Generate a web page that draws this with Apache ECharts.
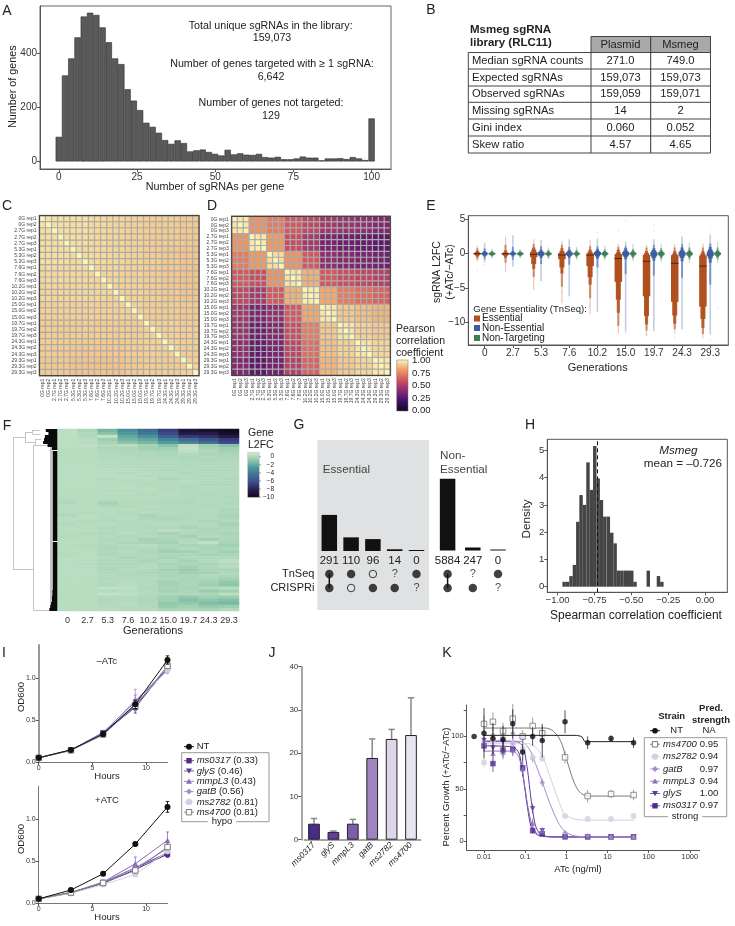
<!DOCTYPE html>
<html>
<head>
<meta charset="utf-8">
<style>html,body{margin:0;padding:0;background:#fff}#main{width:735px;height:926px}</style>
<script src="https://cdn.jsdelivr.net/npm/echarts@6/dist/echarts.min.js"></script>
</head>
<body>
<div id="main"></div>
<script>
// A: sgRNAs per gene histogram (bin width 2)
const aBins = [0,2,4,6,8,10,12,14,16,18,20,22,24,26,28,30,32,34,36,38,40,42,44,46,48,50,52,54,56,58,60,62,64,66,68,70,72,74,76,78,80,82,84,86,88,90,92,94,96,98,100];
const aCounts = [91,318,381,459,536,550,542,496,441,381,360,267,225,190,143,128,106,79,65,78,68,37,41,44,35,28,22,43,26,30,25,24,28,16,14,17,8,8,11,18,14,14,4,11,11,12,9,16,11,5,159];

// B: library table
const bHeader = ['Plasmid', 'Msmeg'];
const bRows = [
  ['Median sgRNA counts', '271.0', '749.0'],
  ['Expected sgRNAs', '159,073', '159,073'],
  ['Observed sgRNAs', '159,059', '159,071'],
  ['Missing sgRNAs', '14', '2'],
  ['Gini index', '0.060', '0.052'],
  ['Skew ratio', '4.57', '4.65']
];

// C, D: correlation, read per time point block, diagonal cells are 1
const genNames = ['0G','2.7G','5.3G','7.6G','10.2G','15.0G','19.7G','24.3G','29.3G'];
const cReps = [2,3,3,3,3,3,3,3,3];
const dReps = [3,3,3,3,3,3,3,3,3];
const cBlocks = [
  [.96,.95,.95,.94,.93,.92,.91,.91,.90],
  [.95,.95,.95,.94,.93,.92,.91,.91,.90],
  [.95,.95,.94,.94,.93,.92,.91,.90,.89],
  [.94,.94,.94,.93,.93,.92,.91,.90,.89],
  [.93,.93,.93,.93,.92,.92,.91,.90,.89],
  [.92,.92,.92,.92,.92,.92,.91,.91,.90],
  [.91,.91,.91,.91,.91,.91,.92,.92,.91],
  [.91,.91,.90,.90,.90,.91,.92,.92,.91],
  [.90,.90,.89,.89,.89,.90,.91,.91,.92]
];
const dBlocks = [
  [.97,.78,.72,.62,.55,.47,.44,.42,.38],
  [.78,.98,.80,.58,.48,.36,.32,.30,.28],
  [.72,.80,.95,.78,.62,.42,.38,.36,.34],
  [.62,.58,.78,.96,.85,.62,.58,.55,.52],
  [.55,.48,.62,.85,.98,.83,.72,.68,.65],
  [.47,.36,.42,.62,.83,.97,.90,.88,.86],
  [.44,.32,.38,.58,.72,.90,.96,.92,.90],
  [.42,.30,.36,.55,.68,.88,.92,.96,.93],
  [.38,.28,.34,.52,.65,.86,.90,.93,.97]
];
const pearsonColors = ['#0d0829','#3f1068','#8a2a74','#d2505f','#ee9a62','#fbf6b4'];
const pearsonTicks = ['1.00','0.75','0.50','0.25','0.00'];

// E: letter value boxes, inner to outer, [lo, hi] in L2FC
const eGens = ['0','2.7','5.3','7.6','10.2','15.0','19.7','24.3','29.3'];
const eMedians = [0,0,-.1,-.2,-.2,-.7,-1.1,-1.4,-1.8];
const eEssential = [
  [[-.1,.1],[-.25,.25],[-.45,.45],[-.8,.8],[-1.1,1.2]],
  [[-.15,.1],[-.3,.2],[-.6,.5],[-1.3,1.3],[-2.6,2.5]],
  [[-.5,.25],[-1.5,.6],[-2.2,.9],[-3.4,1.4],[-5.3,2.1]],
  [[-.8,.1],[-2,.4],[-2.9,.8],[-4.8,1.3],[-7.2,1.9]],
  [[-1.8,.05],[-3.4,.3],[-4.5,.6],[-6.5,1.1],[-8.8,2]],
  [[-4.1,-.05],[-6.7,.2],[-8.6,.6],[-10.5,1],[-11.6,1.5]],
  [[-6.2,-.15],[-9.1,.1],[-10.3,.4],[-11.2,.9],[-12,1.3]],
  [[-7,-.2],[-9,.05],[-10.2,.4],[-11,.9],[-11.6,1.4]],
  [[-7.7,-.25],[-9.5,.05],[-10.8,.4],[-11.7,.9],[-12.3,1.5]]
];
const eNonEssential = [
  [[-.1,.1],[-.25,.25],[-.4,.4],[-.8,.8],[-1.3,1.6]],
  [[-.1,.1],[-.2,.2],[-.4,.4],[-.9,1],[-1.9,2.7]],
  [[-.2,.2],[-.35,.35],[-.6,.6],[-1.5,1.1],[-4,2]],
  [[-.2,.2],[-.35,.35],[-.6,.6],[-1.6,1],[-6.2,2.1]],
  [[-.2,.25],[-.4,.4],[-.7,.7],[-2,1.1],[-8.5,2.2]],
  [[-.25,.25],[-.45,.45],[-.8,.8],[-3,1.1],[-11.3,1.8]],
  [[-.3,.25],[-.6,.5],[-1,.8],[-3.2,1.3],[-11.3,2.1]],
  [[-.3,.25],[-.6,.5],[-1.1,.9],[-3.5,1.4],[-11,2.5]],
  [[-.35,.3],[-.7,.6],[-1.3,1],[-4.5,1.5],[-11.8,2.8]]
];
const eNonTargeting = [
  [[-.1,.1],[-.2,.2],[-.3,.3],[-.45,.45],[-.7,.7]],
  [[-.1,.1],[-.2,.2],[-.3,.3],[-.45,.45],[-.7,.7]],
  [[-.1,.1],[-.2,.2],[-.35,.35],[-.55,.55],[-.8,.9]],
  [[-.1,.1],[-.2,.2],[-.35,.35],[-.6,.6],[-.9,1]],
  [[-.12,.12],[-.25,.25],[-.4,.4],[-.65,.65],[-1,1.2]],
  [[-.12,.12],[-.25,.25],[-.45,.45],[-.7,.7],[-1.1,1.4]],
  [[-.15,.15],[-.3,.3],[-.5,.5],[-.8,.8],[-1.2,1.5]],
  [[-.15,.15],[-.3,.3],[-.5,.5],[-.8,.9],[-1.3,1.6]],
  [[-.15,.15],[-.3,.3],[-.5,.5],[-.8,.9],[-1.3,1.7]]
];
const eOutliers = [[-.26,-2.4],[0,-1.6],[1.74,-2.9],[2.74,-5.6],[3,-6.6],[3.74,-7.6],[4,3.1],[4.74,-9.3],[4.74,3.4],[5,-11.5],[5,4.8],[5.74,-11.8],[6,4.2],[6,3.4],[6.74,-12.2],[7,3.6],[7.26,-5.3],[8,-12.6],[8,3.6],[8.26,-8]];

// F: gene L2FC heatmap rows, top cluster first
const fGens = ['0','2.7','5.3','7.6','10.2','15.0','19.7','24.3','29.3'];
const fRows = [
  [-.2,-.7,-2,-3.5,-5,-7,-9,-9.5,-9.8],
  [-.2,-.5,-1.5,-3,-4.5,-6.5,-8.6,-8.6,-9.5],
  [-.2,-.5,0,-2.5,-3.5,-5.5,-7.2,-7.6,-8.6],
  [-.2,-.3,-1,-2,-2.5,-4,-5,-6,-7],
  [-.2,-.3,-.7,-1.5,-2,-3,-4,-5,-6.6],
  [-.2,-.2,-.4,-.3,-.8,-1.5,-.1,-1,-1.5],
  [-.3,-.3,-.6,-.6,-.9,-.9,0,-.7,-1],
  [-.3,-.3,-.5,-.5,-.6,-.7,-.2,-.5,-.8],
  [-.3,-.3,-.4,-.5,-.5,-.6,-.5,-.6,-.6],
  [-.3,-.3,-.4,-.4,-.5,-.5,-.6,-.5,-.6],
  [-.3,-.3,-.4,-.4,-.4,-.5,-.5,-.6,-.5],
  [-.3,-.3,-.3,-.4,-.4,-.4,-.5,-.5,-.5],
  [-.3,-.3,-.4,-.4,-.4,-.4,-.5,-.4,-.5],
  [-.3,-.3,-.3,-.3,-.4,-.5,-.4,-.5,-.5],
  [-.3,-.3,-.3,-.4,-.3,-.4,-.5,-.4,-.4],
  [-.3,-.3,-.3,-.3,-.4,-.4,-.4,-.5,-.4],
  [-.3,-.3,-.4,-.3,-.3,-.6,-.4,-.4,-.5],
  [-.3,-.3,-.3,-.4,-.4,-.4,-.3,-.4,-.4],
  [-.3,-.3,-.3,-.3,-.4,-.4,-.4,-.5,-.5],
  [-.3,-.3,-.3,-.3,-.3,-.4,-.5,-.4,-.4],
  [-.3,-.3,-.4,-.4,-.3,-.4,-.4,-.4,-.5],
  [-.3,-.3,-.3,-.3,-.4,-.3,-.4,-.5,-.4],
  [-.3,-.3,-.3,-.3,-.3,-.4,-.4,-.4,-.5],
  [-.4,-.3,-.4,-.3,-.4,-.4,-.5,-.4,-.4],
  [-.5,-.3,-.8,-.4,-.4,-.5,-.5,-.4,-.5],
  [-.3,-.3,-.5,-.4,-.3,-.4,-.4,-.5,-.4],
  [-.3,-.3,-.3,-.3,-.4,-.4,-.4,-.4,-.6],
  [-.3,-.4,-.3,-.4,-.3,-.4,-.5,-.4,-.5],
  [-.5,-.3,-.4,-.4,-.7,-.4,-.4,-.5,-.7],
  [-.3,-.3,-.4,-.3,-.6,-.6,-.5,-.4,-.6],
  [-.3,-.4,-.4,-.4,-.4,-.5,-.4,-.6,-.5],
  [-.4,-.3,-.3,-.5,-.4,-.3,-.5,-.4,-.8],
  [-.3,-.3,-.5,-.4,-.5,-.5,-.7,-.5,-.6],
  [-.3,-.3,-.4,-.4,-.4,-.2,-.4,-.6,-.5],
  [-.3,-.4,-.5,-.3,-.5,-.8,-.5,-.5,-.7],
  [-.4,-.3,-.4,-.5,-.4,-.5,-.8,-.4,-.5],
  [-.3,-.3,-.5,-.4,-.8,-.6,-.5,-.9,-.6],
  [-.3,-.3,-.4,-.6,-.7,-.8,-.4,-.1,-.7],
  [-.3,-.4,-.5,-.4,-.3,-.5,-.7,-.6,-.9],
  [-.3,-.3,-.6,-.5,-.4,-.7,-.5,-.7,-.6],
  [-.3,-.3,-.5,-.4,-.6,-1,-.9,-.6,-.9],
  [-.4,-.3,-.6,-.5,-.5,-.6,-.6,-.8,-.7],
  [-.3,-.3,-.4,-.6,-.5,-.7,-.5,-.5,-.5],
  [-.3,-.3,-.5,-.5,-.7,-.5,-.8,-.4,-.2],
  [-.3,-.4,-.6,-.6,-.5,-.7,-.6,-.7,-.4],
  [-.3,-.3,-.5,-.5,-.4,-.6,-.9,-.6,-.3],
  [-.3,-.3,-.6,-.4,-.5,-.8,-1.1,-.7,-.7],
  [-.3,-.3,-.5,-.5,-.6,-.6,-.9,-.8,-.5],
  [-.3,-.3,-.4,-.5,-.5,-.7,-.6,-.5,-.6],
  [-.3,-.3,-.5,-.4,-.4,-.5,-.7,-.6,-.9],
  [-.3,-.3,-.4,-.4,-.5,-.9,-.6,-.8,-1.3],
  [-.3,-.3,-.5,-.3,-.4,-.8,-.6,-1,-1.4],
  [-.3,-.3,-.1,-.2,-.5,-.7,-.7,-.4,-.3],
  [-.3,-.3,-.4,-.3,-.4,-.8,-.6,-1.1,-.9],
  [-.3,-.3,0,-.1,-.4,-.5,-.5,-.6,-.2],
  [-.3,-.3,-.4,-.4,-.5,-.9,-1.3,-.9,-1.1],
  [-.3,-.3,-.5,-.4,-.6,-.9,-1.6,-1.4,-1.6],
  [-.3,-.3,-.4,-.3,-.5,-1.3,-1.3,-1.7,-1.9],
  [-.3,-.3,-.4,-.4,-.5,-1.2,-.9,-1.3,-1.1],
  [-.3,-.3,-.3,-.4,-.4,-.7,-.6,-.7,-.5]
];
const fColors = ['#0d0a1a','#2a1d52','#3d4a8a','#3f7291','#4f9a9c','#94caab','#d6ebd2'];
const fTicks = ['0','−2','−4','−6','−8','−10'];
// dendrogram branches [height0, row0, height1, row1]; heights 0 root to 100 leaves
const dendroBranches = [
  [0,2.6,0,46.2],[0,2.6,27,2.6],[27,1,27,4.5],[27,1,44,1],[27,4.5,50,4.5],[44,.4,44,1.6],[44,.4,60,.4],[44,1.6,62,1.6],
  [50,3.4,50,5.4],[50,3.4,64,3.4],[50,5.4,66,5.4],[0,46.2,46,46.2],[46,5.3,46,59.6],[46,5.3,84,5.3],[46,59.6,84,59.6],
  [84,5.3,84,59.6],[86,6,86,59],[88,6,88,58]
];
const dendroLeafStart = [74,80,72,70,68,78,88,90,90,90,90,90,90,90,90,90,90,90,90,90,90,90,90,90,90,90,90,90,90,90,90,90,90,90,90,90,90,90,90,90,90,90,90,90,90,90,90,90,90,90,90,90,90,89,89,88,88,86,84,82];

// G: upset
const gEssCounts = [291,110,96,14,0];
const gNonCounts = [5884,247,0];
const gEssTn = ['full','full','open','q','full'];
const gEssCr = ['full','open','full','full','q'];
const gNonTn = ['full','q','full'];
const gNonCr = ['full','full','q'];
const gRows = ['CRISPRi','TnSeq'];

// H: density histogram [bin centre, density]
const hBins = [[-.956,.18],[-.933,.18],[-.909,.39],[-.886,.8],[-.863,2.38],[-.841,3.36],[-.818,3],[-.794,4.56],[-.771,3.55],[-.748,5.16],[-.725,3.97],[-.703,3.18],[-.68,2.57],[-.656,2.57],[-.633,1.98],[-.61,1.59],[-.587,.59],[-.564,.59],[-.541,.59],[-.519,.59],[-.497,.59],[-.475,.18],[-.385,.59],[-.316,.39],[-.293,.18]];
const hMean = -0.726;

// I: growth curves
const iHours = [0,3,6,9,12];
const strains = ['ms0317','glyS','mmpL3','gatB','ms2782','ms4700'];
const iScores = ['0.33','0.46','0.43','0.56','0.81','0.81'];
const iTopNT = [.05,.145,.335,.69,1.22];
const iTopNTErr = [.02,.02,.03,.05,.05];
const iTop = [[.05,.145,.345,.655,1.13],[.05,.14,.35,.68,1.11],[.05,.14,.355,.72,1.12],[.05,.14,.34,.74,1.09],[.05,.135,.32,.69,1.1],[.05,.14,.33,.67,1.15]];
const iTopErr = [[.01,.01,.02,.07,.05],[.01,.01,.02,.06,.04],[.01,.01,.02,.08,.04],[.01,.01,.02,.13,.03],[.01,.01,.02,.05,.03],[.01,.01,.02,.04,.03]];
const iBotNT = [.05,.155,.35,.705,1.15];
const iBotNTErr = [.02,.02,.02,.02,.065];
const iBot = [[.05,.125,.235,.4,.585],[.05,.12,.245,.42,.6],[.05,.125,.25,.47,.75],[.05,.12,.25,.42,.65],[.05,.115,.22,.34,.62],[.05,.125,.24,.39,.67]];
const iBotErr = [[.01,.01,.02,.03,.04],[.01,.01,.02,.03,.04],[.01,.01,.02,.08,.1],[.01,.01,.02,.03,.05],[.01,.01,.02,.02,.04],[.01,.01,.02,.03,.05]];

// J: bars
const jValues = [3.7,1.8,3.7,18.9,23.3,24.2];
const jErrors = [1.2,.2,1,4.4,2.2,8.6];

// K: dose response, doses in ng/ml
const kDoses = [.01,.0165,.029,.05,.087,.152,.26,.93,3.3,12.2,43];
const kNoDrugPos = -2.24;
const kNT = [103,98,97,112,85,100,96,114,94,98,94];
const kNTErr = [24,15,13,14,8,9,16,11,6,3,5];
const kVals = [
  [91,74,87,88,70,10,7,4,4,4,4],
  [96,89,95,92,99,31,10,4,4,4,4],
  [93,84,85,87,69,17,10,5,4,4,4],
  [95,101,102,103,98,79,56,8,5,4,4],
  [75,97,100,93,88,80,79,24,21,21,24],
  [112,114,105,117,100,110,103,80,43,45,44]
];
const kErrs = [
  [6,8,7,6,8,3,2,1,1,1,1],
  [5,7,6,7,4,5,3,1,1,1,1],
  [6,7,7,6,6,5,2,1,1,1,1],
  [7,8,7,9,5,4,4,2,1,1,1],
  [5,6,5,7,5,5,3,2,2,2,2],
  [8,9,8,14,6,8,7,6,6,4,5]
];
const kScores = ['0.97','1.00','0.94','0.97','0.94','0.95'];
const kFitNT = [[-2,101],[.25,101],[.37,100],[.45,95],[1.65,95]];
const kFits = [
  [[-2,91],[-1.3,90],[-1.15,84],[-1.05,62],[-.95,34],[-.85,13],[-.7,6],[-.3,4],[1.65,4]],
  [[-2,95],[-1.2,95],[-1.05,90],[-.95,70],[-.85,38],[-.75,15],[-.62,6],[-.3,4],[1.65,4]],
  [[-2,86],[-1.3,86],[-1.15,80],[-1.05,62],[-.93,32],[-.82,14],[-.65,5],[-.3,4],[1.65,4]],
  [[-2,96],[-1.1,95],[-.9,88],[-.75,74],[-.58,56],[-.4,36],[-.2,18],[-.03,9],[.2,5],[.6,4],[1.65,4]],
  [[-2,93],[-.9,93],[-.7,88],[-.55,78],[-.4,62],[-.25,45],[-.1,30],[-.03,25],[.2,21],[.6,20],[1.65,20]],
  [[-2,108],[-.5,108],[-.35,106],[-.2,100],[-.1,92],[0,79],[.1,66],[.2,55],[.3,48],[.4,44.5],[.6,43],[1.65,43]]
];

const FF = 'Liberation Sans';
const strainColors = ['#4f2a8f','#5b3a9c','#8a6bbd','#a78bcf','#d4d0e2','#777777'];
const jColors = ['#4b2a8c','#5f3f9e','#7a5fa8','#a084c2','#ddd5e8','#e8e4f2'];
const strainSymbols = [
  {symbol:'rect',size:5.5},{symbol:'triangle',size:5.5,rotate:180},{symbol:'triangle',size:5.5},
  {symbol:'diamond',size:5.5},{symbol:'circle',size:6},{symbol:'rect',size:5.5,hollow:true}
];

// graphic text helper
function tx(x, y, text, size, o) {
  o = o || {};
  return {
    type: 'text', x: x, y: y, rotation: o.rotation || 0, z: o.z || 50,
    style: Object.assign({
      text: text, fontSize: size, fontFamily: FF, fill: o.fill || '#222',
      fontWeight: o.weight || 'normal', fontStyle: o.italic ? 'italic' : 'normal',
      textAlign: o.align || 'center', textVerticalAlign: 'middle'
    }, o.style || {})
  };
}
function rectEl(x, y, w, h, fill, stroke, lw, z) {
  return {type:'rect', z:z||40, shape:{x:x,y:y,width:w,height:h}, style:{fill:fill||'none',stroke:stroke||'none',lineWidth:lw||0}};
}
function lineEl(x1, y1, x2, y2, stroke, lw) {
  return {type:'line', z:45, shape:{x1:x1,y1:y1,x2:x2,y2:y2}, style:{stroke:stroke,lineWidth:lw||1}};
}
function marker(x, y, i) {
  const c = strainColors[i];
  if (i === 0) return rectEl(x-2.7, y-2.7, 5.4, 5.4, c);
  if (i === 1) return {type:'polygon', z:45, shape:{points:[[x-3,y-2.4],[x+3,y-2.4],[x,y+2.8]]}, style:{fill:c}};
  if (i === 2) return {type:'polygon', z:45, shape:{points:[[x-3,y+2.4],[x+3,y+2.4],[x,y-2.8]]}, style:{fill:c}};
  if (i === 3) return {type:'polygon', z:45, shape:{points:[[x-3,y],[x,y-3],[x+3,y],[x,y+3]]}, style:{fill:c}};
  if (i === 4) return {type:'circle', z:45, shape:{cx:x,cy:y,r:3.2}, style:{fill:c}};
  return rectEl(x-2.7, y-2.7, 5.4, 5.4, '#fff', c, 1, 45);
}
function vAxis(g, min, max, ticks, labels, size, fmt, extra) {
  return Object.assign({
    type:'value', gridIndex:g, min:min, max:max, splitLine:{show:false},
    axisLine:{show:true, onZero:false, lineStyle:{color:'#555'}},
    axisTick:{show:true, customValues:ticks, length:3, lineStyle:{color:'#555'}},
    axisLabel:{customValues:labels, fontSize:size, color:'#333', margin:3, fontFamily:FF, formatter:fmt}
  }, extra || {});
}
function hidden(g, type, o) {
  return Object.assign({type:type, gridIndex:g, show:false, splitLine:{show:false}}, o || {});
}
function errSeries(g, pts, color, width, cap, upperOnly, z) {
  return {
    type:'custom', xAxisIndex:g, yAxisIndex:g, silent:true, z:z||3, data:pts,
    renderItem: function (params, api) {
      const x = api.value(0), y = api.value(1), e = api.value(2);
      const hi = api.coord([x, y + e]), lo = api.coord([x, upperOnly ? y : y - e]);
      const st = {stroke:color, lineWidth:width};
      return {type:'group', children:[
        {type:'line', shape:{x1:hi[0],y1:hi[1],x2:lo[0],y2:lo[1]}, style:st},
        {type:'line', shape:{x1:hi[0]-cap,y1:hi[1],x2:hi[0]+cap,y2:hi[1]}, style:st},
        {type:'line', shape:{x1:lo[0]-cap,y1:lo[1],x2:lo[0]+cap,y2:lo[1]}, style:upperOnly ? {stroke:'none'} : st}
      ]};
    }
  };
}

// expand time point blocks to replicate cells
function corrCells(blocks, reps) {
  const idx = [];
  reps.forEach((n, g) => { for (let k = 0; k < n; k++) idx.push(g); });
  const cells = [];
  idx.forEach((gy, y) => idx.forEach((gx, x) => {
    cells.push([x, y, x === y ? 1 : blocks[gy][gx]]);
  }));
  return cells;
}
function corrLabels(reps) {
  const out = [];
  reps.forEach((n, g) => { for (let k = 1; k <= n; k++) out.push(genNames[g] + ' rep' + k); });
  return out;
}
const cLabels = corrLabels(cReps), dLabels = corrLabels(dReps);

const grids = [
  {left:40, top:6, width:351, height:163, show:true, borderColor:'#666', borderWidth:1},   // 0 A
  {left:39.5, top:215.7, width:159.5, height:160},   // 1 C
  {left:231.7, top:216.3, width:158.6, height:159},  // 2 D
  {left:468.3, top:215.7, width:260, height:129.3, show:true, borderColor:'#555', borderWidth:1}, // 3 E
  {left:57.3, top:429, width:181.7, height:182},     // 4 F heat
  {left:13, top:429, width:44.3, height:182},        // 5 F tree
  {left:318.4, top:513.8, width:109, height:37.2},   // 6 G ess bars
  {left:435, top:477.3, width:75.6, height:73.2},    // 7 G non bars
  {left:318.4, top:567, width:109, height:28},       // 8 G ess dots
  {left:435, top:567, width:75.6, height:28},        // 9 G non dots
  {left:547.3, top:439.3, width:180, height:153, show:true, borderColor:'#555', borderWidth:1}, // 10 H
  {left:38.7, top:645, width:128.8, height:117},     // 11 I top
  {left:38.7, top:786, width:128.8, height:117},     // 12 I bottom
  {left:304.3, top:666.7, width:116.4, height:173},  // 13 J
  {left:466.7, top:705, width:233, height:145},      // 14 K
  {left:317.3, top:440, width:111.7, height:170, show:true, backgroundColor:'#e0e1e2', borderWidth:0} // 15 G shade
];

const catAxis = (g, data, size, rotate, extra) => Object.assign({
  type:'category', gridIndex:g, data:data,
  axisLine:{show:false}, axisTick:{show:false}, splitLine:{show:false},
  axisLabel:{interval:0, fontSize:size, color:'#444', rotate:rotate||0, margin:3, fontFamily:FF}
}, extra || {});

const xAxes = [
  vAxis(0, -6, 106.2, [0,25,50,75,100], [0,25,50,75,100], 10),
  catAxis(1, cLabels, 5, 90, {position:'bottom'}),
  catAxis(2, dLabels, 5, 90, {position:'bottom'}),
  vAxis(3, -.58, 8.64, [0,1,2,3,4,5,6,7,8], [0,1,2,3,4,5,6,7,8], 10, v => eGens[v]),
  catAxis(4, fGens, 9, 0, {axisLabel:{interval:0,fontSize:9,color:'#333',margin:5,fontFamily:FF}}),
  hidden(5, 'value', {min:0, max:100}),
  catAxis(6, gEssCounts.map(String), 11.5, 0, {axisLabel:{interval:0,fontSize:11.5,color:'#222',margin:4,fontFamily:FF}}),
  catAxis(7, gNonCounts.map(String), 11.5, 0, {axisLabel:{interval:0,fontSize:11.5,color:'#222',margin:4,fontFamily:FF}}),
  hidden(8, 'category', {data:gEssCounts.map(String)}),
  hidden(9, 'category', {data:gNonCounts.map(String)}),
  vAxis(10, -1.07, .151, [-1,-.75,-.5,-.25,0], [-1,-.75,-.5,-.25,0], 9.5, v => (v < 0 ? '−' : '') + Math.abs(v).toFixed(2)),
  vAxis(11, 0, 12, [0,5,10], [0,5,10], 7, null, {axisLine:{show:true,onZero:false,lineStyle:{color:'#777'}}}),
  vAxis(12, 0, 12, [0,5,10], [0,5,10], 7, null, {axisLine:{show:true,onZero:false,lineStyle:{color:'#777'}}}),
  catAxis(13, strains, 8, 45, {
    axisLine:{show:true,onZero:false,lineStyle:{color:'#888',width:1.5}},
    axisLabel:{interval:0,fontSize:8.5,fontStyle:'italic',color:'#222',rotate:45,margin:4,fontFamily:FF}
  }),
  vAxis(14, -2.42, 3.24, [-2,-1,0,1,2,3], [-2,-1,0,1,2,3], 7.5, v => String(+Math.pow(10, v).toFixed(2)), {
    axisLine:{show:true,onZero:false,lineStyle:{color:'#555'}}
  }),
  hidden(15, 'value', {min:0, max:1})
];
xAxes[11].axisLabel.formatter = xAxes[12].axisLabel.formatter = v => String(v);

const yAxes = [
  vAxis(0, -28, 575, [0,200,400], [0,200,400], 10),
  catAxis(1, cLabels, 5, 0, {inverse:true}),
  catAxis(2, dLabels, 5, 0, {inverse:true}),
  vAxis(3, -13.3, 5.54, [-10,-5,0,5], [-10,-5,0,5], 10, v => v < 0 ? '−' + (-v) : String(v)),
  hidden(4, 'category', {inverse:true, data:fRows.map((r, i) => i)}),
  hidden(5, 'value', {min:0, max:60, inverse:true}),
  hidden(6, 'value', {min:0, max:300}),
  hidden(7, 'value', {min:0, max:6000}),
  catAxis(8, gRows, 11, 0, {axisLabel:{interval:0,fontSize:11,color:'#222',margin:4,fontFamily:FF}}),
  hidden(9, 'category', {data:gRows}),
  vAxis(10, -.205, 5.405, [0,1,2,3,4,5], [0,1,2,3,4,5], 9.5),
  vAxis(11, 0, 1.4, [0,.5,1], [0,.5,1], 7, v => v.toFixed(1), {axisLine:{show:true,onZero:false,lineStyle:{color:'#999',width:2}}}),
  vAxis(12, 0, 1.4, [0,.5,1], [0,.5,1], 7, v => v.toFixed(1), {axisLine:{show:true,onZero:false,lineStyle:{color:'#777'}}}),
  vAxis(13, 0, 40, [0,10,20,30,40], [0,10,20,30,40], 8, null, {offset:3, axisLine:{show:true,onZero:false,lineStyle:{color:'#888',width:1.5}}}),
  vAxis(14, -8.5, 130, [0,25,50,75,100,125], [0,50,100], 7.5),
  hidden(15, 'value', {min:0, max:1})
];

const series = [];

// A
series.push({type:'bar', xAxisIndex:0, yAxisIndex:0, barWidth:6.26, data:aBins.map((b, i) => [b, aCounts[i]]),
  itemStyle:{color:'#5a5a5a', borderColor:'#2e2e2e', borderWidth:.6}});

// C, D
series.push({type:'heatmap', xAxisIndex:1, yAxisIndex:1, data:corrCells(cBlocks, cReps), itemStyle:{borderColor:'#ababab', borderWidth:1.2}});
series.push({type:'heatmap', xAxisIndex:2, yAxisIndex:2, data:corrCells(dBlocks, dReps), itemStyle:{borderColor:'#ababab', borderWidth:1.2}});

// E
const levelAlpha = [1, .95, .8, .55, .3];
const eOffsets = [-.26, 0, .26];
function boxSeries(table, color, widths, off) {
  const data = [];
  for (let lev = 4; lev >= 0; lev--) {
    table.forEach((boxes, g) => data.push([g + off, boxes[lev][0], boxes[lev][1], widths[lev], levelAlpha[lev]]));
  }
  return {
    type:'custom', xAxisIndex:3, yAxisIndex:3, silent:true, z:3, data:data,
    renderItem: function (params, api) {
      const x = api.value(0), w = api.value(3);
      const t = api.coord([x, api.value(2)]), b = api.coord([x, api.value(1)]);
      return {type:'rect', shape:{x:t[0]-w/2, y:t[1], width:w, height:Math.max(b[1]-t[1], .8)}, style:{fill:color, opacity:api.value(4)}};
    }
  };
}
series.push(boxSeries(eEssential, '#b0501e', [7.5,5,3.2,2.2,1.2], eOffsets[0]));
series.push(boxSeries(eNonEssential, '#3a5ea0', [7,5,3,2,1.6], eOffsets[1]));
series.push(boxSeries(eNonTargeting, '#3d7f55', [7,5,3,2,1.2], eOffsets[2]));
series.push({
  type:'custom', xAxisIndex:3, yAxisIndex:3, silent:true, z:4, data:eMedians.map((m, g) => [g + eOffsets[0], m]),
  renderItem: function (params, api) {
    const p = api.coord([api.value(0), api.value(1)]);
    return {type:'line', shape:{x1:p[0]-3.8, y1:p[1], x2:p[0]+3.8, y2:p[1]}, style:{stroke:'#3a1a08', lineWidth:.8}};
  }
});
series.push({type:'scatter', xAxisIndex:3, yAxisIndex:3, symbolSize:1.2, data:eOutliers, itemStyle:{color:'#8a8a8a', opacity:.35}, silent:true});

// F
const fCells = [];
fRows.forEach((r, y) => r.forEach((v, x) => fCells.push([x, y, v])));
series.push({type:'heatmap', xAxisIndex:4, yAxisIndex:4, data:fCells});
series.push({type:'lines', coordinateSystem:'cartesian2d', xAxisIndex:5, yAxisIndex:5, silent:true, z:2,
  lineStyle:{color:'#c4c4c4', width:1, opacity:1},
  data:dendroBranches.map(b => ({coords:[[b[0],b[1]],[b[2],b[3]]]}))});
series.push({type:'lines', coordinateSystem:'cartesian2d', xAxisIndex:5, yAxisIndex:5, silent:true, z:3,
  lineStyle:{color:'#0a0a0a', width:3.1, opacity:1},
  data:dendroLeafStart.map((h, i) => ({coords:[[h,i+.5],[100,i+.5]]}))});

// G
function upset(gBar, gDot, counts, tn, cr) {
  series.push({type:'bar', xAxisIndex:gBar, yAxisIndex:gBar, barWidth:15.5, barMinHeight:1, data:counts, itemStyle:{color:'#111'}});
  const cells = [];
  tn.forEach((s, i) => cells.push([i, 1, s]));
  cr.forEach((s, i) => cells.push([i, 0, s]));
  series.push({type:'line', xAxisIndex:gDot, yAxisIndex:gDot, data:[[0,0],[0,1]], showSymbol:false, lineStyle:{color:'#111',width:1.5}, silent:true, z:2});
  series.push({type:'scatter', xAxisIndex:gDot, yAxisIndex:gDot, symbolSize:8.5, silent:true, z:3,
    data:cells.filter(c => c[2] === 'full').map(c => [c[0], c[1]]), itemStyle:{color:'#111'}});
  series.push({type:'scatter', xAxisIndex:gDot, yAxisIndex:gDot, symbolSize:7.5, silent:true, z:3,
    data:cells.filter(c => c[2] === 'open').map(c => [c[0], c[1]]), itemStyle:{color:'none', borderColor:'#111', borderWidth:1}});
  series.push({type:'scatter', xAxisIndex:gDot, yAxisIndex:gDot, symbolSize:1, silent:true, z:3,
    data:cells.filter(c => c[2] === 'q').map(c => [c[0], c[1]]), itemStyle:{color:'none'},
    label:{show:true, position:'inside', formatter:'?', fontSize:11, color:'#222', fontFamily:FF}});
}
upset(6, 8, gEssCounts, gEssTn, gEssCr);
upset(7, 9, gNonCounts, gNonTn, gNonCr);

// H
series.push({type:'bar', xAxisIndex:10, yAxisIndex:10, barWidth:3.45, data:hBins, itemStyle:{color:'#454545'},
  markLine:{silent:true, symbol:'none', label:{show:false}, lineStyle:{color:'#111', type:[4,3], width:1},
    data:[{xAxis:hMean}]}});

// I
function growthPanel(g, vals, errs, nt, ntErr) {
  strains.forEach((s, i) => {
    const m = strainSymbols[i];
    series.push(errSeries(g, iHours.map((h, k) => [h, vals[i][k], errs[i][k]]), strainColors[i], .8, 1.5, false, 3));
    series.push({type:'line', xAxisIndex:g, yAxisIndex:g, silent:true, z:4, data:iHours.map((h, k) => [h, vals[i][k]]),
      symbol:m.symbol, symbolSize:m.size, symbolRotate:m.rotate || 0, showAllSymbol:true, lineStyle:{color:strainColors[i], width:1},
      itemStyle:m.hollow ? {color:'#fff', borderColor:strainColors[i], borderWidth:1} : {color:strainColors[i]}});
  });
  series.push(errSeries(g, iHours.map((h, k) => [h, nt[k], ntErr[k]]), '#111', .9, 1.8, false, 5));
  series.push({type:'line', xAxisIndex:g, yAxisIndex:g, silent:true, z:6, data:iHours.map((h, k) => [h, nt[k]]),
    symbol:'circle', symbolSize:6, lineStyle:{color:'#111', width:1}, itemStyle:{color:'#111'}});
}
growthPanel(11, iTop, iTopErr, iTopNT, iTopNTErr);
growthPanel(12, iBot, iBotErr, iBotNT, iBotNTErr);

// J
series.push(errSeries(13, jValues.map((v, i) => [i, v, jErrors[i]]), '#888', 1.5, 3.2, true, 1));
series.push({type:'bar', xAxisIndex:13, yAxisIndex:13, barWidth:11.7, z:2,
  data:jValues.map((v, i) => ({value:v, itemStyle:{color:jColors[i], borderColor:'#222', borderWidth:1}}))});

// K
const kLog = kDoses.map(d => Math.log10(d));
strains.forEach((s, i) => {
  const m = strainSymbols[i];
  series.push({type:'line', xAxisIndex:14, yAxisIndex:14, silent:true, z:2, data:kFits[i], smooth:.25, showSymbol:false, lineStyle:{color:strainColors[i], width:1}});
  series.push(errSeries(14, kLog.map((x, k) => [x, kVals[i][k], kErrs[i][k]]), strainColors[i], .7, 0, false, 3));
  series.push({type:'scatter', xAxisIndex:14, yAxisIndex:14, silent:true, z:4, data:kLog.map((x, k) => [x, kVals[i][k]]),
    symbol:m.symbol, symbolSize:m.size, symbolRotate:m.rotate || 0,
    itemStyle:m.hollow ? {color:'#fff', borderColor:strainColors[i], borderWidth:1} : {color:strainColors[i]}});
});
series.push({type:'line', xAxisIndex:14, yAxisIndex:14, silent:true, z:5, data:kFitNT, showSymbol:false, lineStyle:{color:'#222', width:1}});
series.push(errSeries(14, kLog.map((x, k) => [x, kNT[k], kNTErr[k]]), '#222', .8, 0, false, 5));
series.push({type:'scatter', xAxisIndex:14, yAxisIndex:14, silent:true, z:6, symbolSize:5.5, itemStyle:{color:'#111'},
  data:[[kNoDrugPos, 100]].concat(kLog.map((x, k) => [x, kNT[k]]))});

// text, table, legends
const g = [];
[['A',7,11],['B',431,10],['C',7,206],['D',212,206],['E',431,206],['F',7,426],['G',299,425],['H',530,425],['I',4,653],['J',272,653],['K',447,653]]
  .forEach(p => g.push(tx(p[1], p[2], p[0], 14)));

// A
g.push(tx(270.7, 25.7, 'Total unique sgRNAs in the library:', 10.7));
g.push(tx(272, 38.3, '159,073', 10.7));
g.push(tx(272, 64.3, 'Number of genes targeted with ≥ 1 sgRNA:', 10.7));
g.push(tx(271, 77, '6,642', 10.7));
g.push(tx(271, 103.3, 'Number of genes not targeted:', 10.7));
g.push(tx(271, 116, '129', 10.7));
g.push(tx(215, 187, 'Number of sgRNAs per gene', 10.8));
g.push(tx(13.5, 86.7, 'Number of genes', 10.8, {rotation:Math.PI/2}));

// B
g.push(tx(470, 30, 'Msmeg sgRNA', 11.5, {align:'left', weight:'bold'}));
g.push(tx(470, 43, 'library (RLC11)', 11.5, {align:'left', weight:'bold'}));
const bCols = [468.3, 591, 650.7, 710.5];
const bLines = [52.5, 69, 86, 102.3, 119, 136, 153];
g.push(rectEl(bCols[1], 36.5, bCols[3]-bCols[1], 16, '#a9a9a9', '#444', 1));
g.push(lineEl(bCols[2], 36.5, bCols[2], 153, '#333', 1));
g.push(lineEl(bCols[1], 52.5, bCols[1], 153, '#888', 1.6));
bLines.forEach(y => g.push(lineEl(bCols[0], y, bCols[3], y, '#444', 1)));
g.push(lineEl(bCols[0], 52.5, bCols[0], 153, '#444', 1));
g.push(lineEl(bCols[3], 36.5, bCols[3], 153, '#444', 1));
g.push(tx(620.5, 45, bHeader[0], 11.2));
g.push(tx(680.5, 45, bHeader[1], 11.2));
bRows.forEach((r, i) => {
  const y = (bLines[i] + bLines[i+1]) / 2;
  g.push(tx(472, y, r[0], 11.2, {align:'left'}));
  g.push(tx(620.5, y, r[1], 11.2));
  g.push(tx(680.5, y, r[2], 11.2));
});

// C, D frames and colour bar
g.push(rectEl(39.5, 215.7, 159.5, 160, 'none', '#444', 1.2));
g.push(rectEl(231.7, 216.3, 158.6, 159, 'none', '#444', 1.2));
g.push(tx(396, 329.5, 'Pearson', 10.5, {align:'left'}));
g.push(tx(396, 341, 'correlation', 10.5, {align:'left'}));
g.push(tx(396, 353, 'coefficient', 10.5, {align:'left'}));
function gradient(colors) {
  return {type:'linear', x:0, y:0, x2:0, y2:1, colorStops:colors.map((c, i) => ({offset:1 - i/(colors.length-1), color:c}))};
}
g.push(rectEl(396.7, 360, 11.3, 51, gradient(pearsonColors), '#777', .5));
pearsonTicks.forEach((t, i) => g.push(tx(412, 360.7 + i*12.4, t, 9.5, {align:'left'})));

// E
g.push(tx(437, 272, 'sgRNA L2FC', 10.5, {rotation:Math.PI/2}));
g.push(tx(450, 272, '(+ATc/−ATc)', 10.5, {rotation:Math.PI/2}));
g.push(tx(597.7, 368, 'Generations', 11));
g.push(tx(473.3, 309, 'Gene Essentiality (TnSeq):', 9.5, {align:'left'}));
[['Essential','#b0501e',318.5],['Non-Essential','#3a5ea0',328],['Non-Targeting','#3d7f55',338]].forEach(r => {
  g.push(rectEl(474, r[2]-3, 6, 6, r[1]));
  g.push(tx(482, r[2], r[0], 10, {align:'left'}));
});

// F
g.push(tx(153, 631, 'Generations', 11));
g.push(tx(248, 433, 'Gene', 10.5, {align:'left'}));
g.push(tx(248, 445, 'L2FC', 10.5, {align:'left'}));
g.push(rectEl(247.7, 452.3, 11.6, 45, gradient(fColors), '#999', .3));
fTicks.forEach((t, i) => {
  const y = 456.7 + i*8.08;
  g.push(lineEl(259.3, y, 261, y, '#555', .6));
  g.push(tx(274, y, t, 6.5, {align:'right'}));
});

// G
g.push(tx(322.7, 470, 'Essential', 11.7, {align:'left', fill:'#444'}));
g.push(tx(440, 455.5, 'Non-', 11.7, {align:'left', fill:'#444'}));
g.push(tx(440, 470, 'Essential', 11.7, {align:'left', fill:'#444'}));

// H
g.push(tx(678.3, 451, 'Msmeg', 11.7, {italic:true}));
g.push(tx(722, 464, 'mean = –0.726', 11.7, {align:'right'}));
g.push(tx(636, 616, 'Spearman correlation coefficient', 12));
g.push(tx(527, 519, 'Density', 11.7, {rotation:Math.PI/2}));

// I
g.push(tx(106.7, 661.7, '–ATc', 9.5));
g.push(tx(107, 800, '+ATC', 9.5));
g.push(tx(107, 776.7, 'Hours', 9.5));
g.push(tx(107, 917, 'Hours', 9.5));
g.push(tx(21, 697, 'OD600', 9.5, {rotation:Math.PI/2}));
g.push(tx(21, 839, 'OD600', 9.5, {rotation:Math.PI/2}));
g.push({type:'circle', z:45, shape:{cx:189,cy:746.7,r:3}, style:{fill:'#111'}});
g.push(lineEl(184, 746.7, 194, 746.7, '#111', 1));
g.push(tx(196.7, 746.7, 'NT', 9.5, {align:'left'}));
g.push(rectEl(181.7, 752.7, 87.3, 69, 'none', '#999', 1));
strains.forEach((s, i) => {
  const y = 760.7 + i*10.3;
  g.push(lineEl(184, y, 194, y, strainColors[i], .8));
  g.push(marker(189, y, i));
  g.push(tx(196.7, y, '{i|' + s + '} (' + iScores[i] + ')', 9.5, {align:'left', style:{rich:{i:{fontStyle:'italic', fontSize:9.5, fontFamily:FF, fill:'#222'}}}}));
});
g.push(tx(222, 821.7, 'hypo', 9.5, {style:{backgroundColor:'#fff', padding:[0,4]}}));

// K
g.push(tx(446, 787, 'Percent Growth (+ATc/−ATc)', 9.5, {rotation:Math.PI/2}));
g.push(tx(578, 869, 'ATc (ng/ml)', 9.5));
g.push(tx(671.7, 716, 'Strain', 9.5, {weight:'bold'}));
g.push(tx(711, 708, 'Pred.', 9.5, {weight:'bold'}));
g.push(tx(711, 720, 'strength', 9.5, {weight:'bold'}));
g.push({type:'circle', z:45, shape:{cx:655,cy:730.7,r:2.8}, style:{fill:'#111'}});
g.push(lineEl(650, 730.7, 660, 730.7, '#111', 1));
g.push(tx(676.7, 730.7, 'NT', 9.5));
g.push(tx(709, 730.7, 'NA', 9.5));
g.push(rectEl(644.3, 737.7, 82.4, 79, 'none', '#999', 1));
['ms4700','ms2782','gatB','mmpL3','glyS','ms0317'].forEach((s, r) => {
  const i = strains.indexOf(s), y = 744.3 + r*12.3;
  g.push(lineEl(650, y, 660, y, strainColors[i], .8));
  g.push(marker(655, y, i));
  g.push(tx(663, y, s, 9.5, {align:'left', italic:true}));
  g.push(tx(709, y, kScores[i], 9.5));
});
g.push(tx(685, 816.7, 'strong', 9.5, {style:{backgroundColor:'#fff', padding:[0,4]}}));

const chart = echarts.init(document.getElementById('main'), null, {renderer:'canvas'});
chart.setOption({
  animation:false,
  backgroundColor:'#fff',
  textStyle:{fontFamily:FF},
  grid:grids, xAxis:xAxes, yAxis:yAxes,
  visualMap:[
    {show:false, type:'continuous', seriesIndex:[1,2], min:0, max:1, inRange:{color:pearsonColors}},
    {show:false, type:'continuous', seriesIndex:series.findIndex(s => s.xAxisIndex === 4), min:-10, max:.5, inRange:{color:fColors}}
  ],
  series:series,
  graphic:{elements:g}
});
</script>
</body>
</html>
